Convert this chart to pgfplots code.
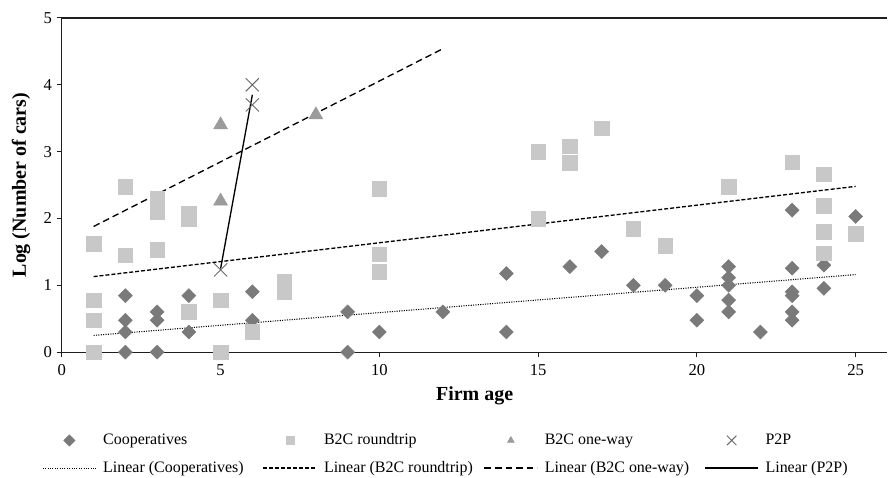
\documentclass[border=0pt]{standalone}
\usepackage{fontspec}
\setmainfont{Liberation Serif}
\usepackage{pgfplots}
\pgfplotsset{compat=1.18}
\definecolor{coopgray}{RGB}{122,122,122}
\definecolor{rtgray}{RGB}{200,200,200}
\definecolor{owgray}{RGB}{155,155,155}
\definecolor{ptpgray}{RGB}{105,105,105}
\definecolor{axisgray}{RGB}{30,30,30}

\newcommand{\legtxt}[1]{\hspace{3pt}\makebox[118pt][l]{#1}}

\begin{document}
\begin{tikzpicture}
\begin{axis}[
    scale only axis,
    width=620.7pt, height=251.25pt,
    xmin=0, xmax=26, ymin=0, ymax=5,
    xtick={0,5,...,25}, ytick={0,1,...,5},
    axis x line*=bottom, axis y line*=left,
    axis line style={-, line width=0.9pt, axisgray},
    tick align=outside, major tick length=4pt,
    tick style={axisgray, line width=0.8pt},
    ticklabel style={font=\fontsize{12.5}{14}\selectfont},
    xticklabel style={yshift=-1.5pt},
    /pgf/number format/assume math mode=true,
    xlabel={Firm age}, ylabel={Log (Number of cars)},
    label style={font=\fontsize{15}{17}\selectfont\bfseries},
    xlabel style={yshift=-1.5pt},
    ylabel style={yshift=3pt},
    clip=false,
    legend columns=4,
    legend cell align=left,
    legend style={draw=none, fill=none, at={(axis description cs:-0.024,-0.236)}, anchor=north west,
        font=\fontsize{12}{14}\selectfont, row sep=7pt, inner sep=0pt},
    legend image code/.code={\draw[mark repeat=2,mark phase=2] plot coordinates {(0pt,0pt) (20pt,0pt) (40pt,0pt)};},
    legend image post style={mark size=3pt},
]
% Cooperatives
\addplot[only marks, mark=square*, mark size=3.7pt, color=coopgray, mark options={rotate=45, fill=coopgray, draw=coopgray}]
coordinates {(2,0.845)(2,0.477)(2,0.301)(2,0)(3,0.602)(3,0.477)(3,0)(4,0.845)(4,0.301)
(6,0.903)(6,0.477)(9,0.602)(9,0)(10,0.301)(12,0.602)(14,1.176)(14,0.301)(16,1.279)
(17,1.505)(18,1.0)(19,1.0)(20,0.845)(20,0.477)(21,1.279)(21,1.114)(21,1.0)(21,0.778)
(21,0.602)(22,0.301)(23,2.124)(23,1.255)(23,0.903)(23,0.845)(23,0.602)(23,0.477)
(24,1.301)(24,0.954)(25,2.03)};
\addlegendentry{\legtxt{Cooperatives}}
% B2C roundtrip
\addplot[only marks, mark=square*, mark size=5.5pt, color=rtgray, mark options={fill=rtgray, draw=rtgray}]
coordinates {(1,1.623)(1,0.778)(1,0.477)(1,0)(2,2.477)(2,1.447)(3,2.29)(3,2.1)(3,1.531)
(4,2.08)(4,2.0)(4,0.602)(5,0.778)(5,0)(6,0.301)(7,1.06)(7,0.9)(10,2.44)(10,1.462)
(10,1.204)(15,3.0)(15,2.0)(16,3.08)(16,2.83)(17,3.35)(18,1.85)(19,1.59)(21,2.47)
(23,2.84)(24,2.66)(24,2.19)(24,1.8)(24,1.48)(25,1.77)};
\addlegendentry{\legtxt{B2C roundtrip}}
% B2C one-way
\addplot[only marks, mark=triangle*, mark size=6pt, color=owgray, mark options={fill=owgray, draw=owgray}]
coordinates {(5,3.40)(5,2.26)(8,3.55)};
\addlegendentry{\legtxt{B2C one-way}}
% P2P
\addplot[only marks, mark=x, mark size=7pt, color=ptpgray, mark options={line width=0.7pt},
    legend image post style={mark size=5pt}]
coordinates {(5,1.23)(6,4.0)(6,3.70)};
\addlegendentry{\hspace{3pt}P2P}
% trend lines
\addplot[black, line width=0.8pt, densely dotted, no marks]
coordinates {(1,0.25)(25,1.16)};
\addlegendentry{\legtxt{Linear (Cooperatives)}}
\addplot[black, line width=1pt, dash pattern=on 3pt off 1.5pt, no marks]
coordinates {(1,1.13)(25,2.48)};
\addlegendentry{\legtxt{Linear (B2C roundtrip)}}
\addplot[black, line width=1pt, dash pattern=on 5pt off 3pt, no marks]
coordinates {(1,1.88)(12,4.54)};
\addlegendentry{\legtxt{Linear (B2C one-way)}}
\addplot[black, line width=1pt, no marks]
coordinates {(5,1.25)(6,3.85)};
\addlegendentry{\hspace{3pt}Linear (P2P)}
\draw[axisgray, line width=0.9pt] (rel axis cs:0,1) -- (rel axis cs:1,1);
\path (rel axis cs:0,0) ++(-46.5pt,-92.25pt);
\path (rel axis cs:0,1) ++(-46.5pt,13.5pt);
\end{axis}
\end{tikzpicture}
\end{document}
